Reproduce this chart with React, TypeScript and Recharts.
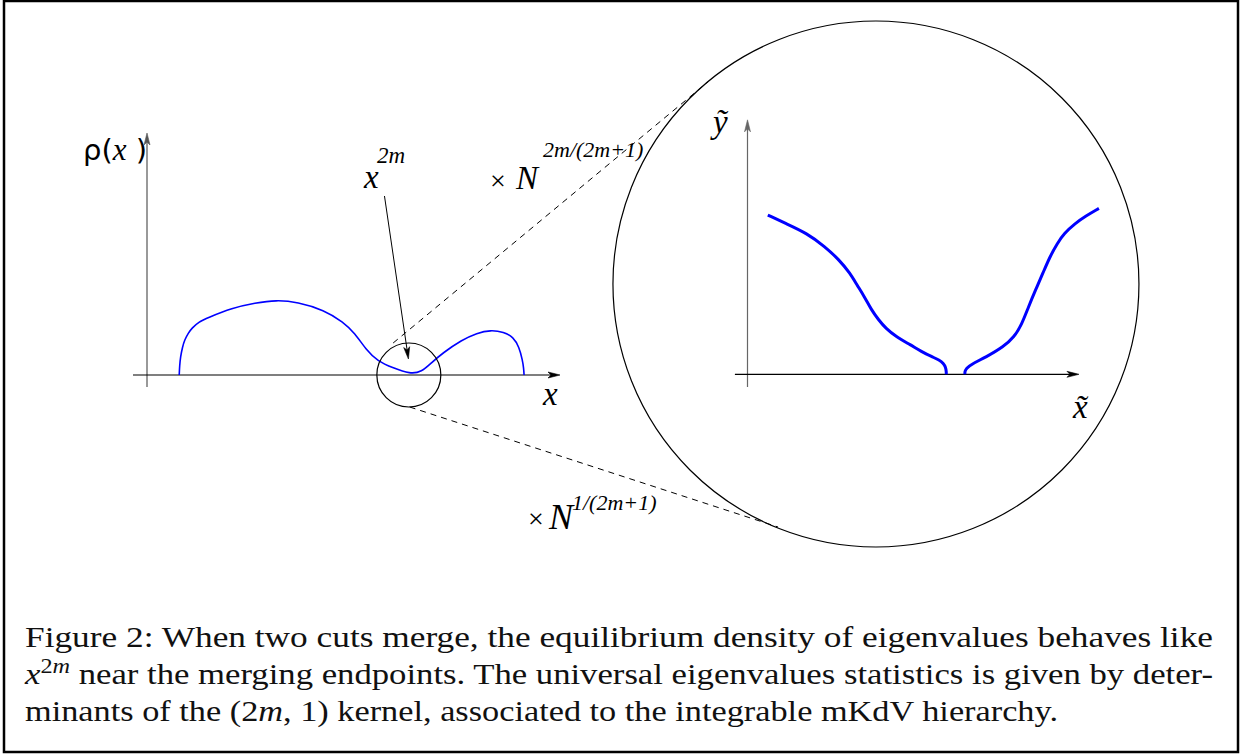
import React from 'react';
import { ComposedChart, Line, XAxis, YAxis, ReferenceLine, ReferenceDot } from 'recharts';

const W = 1247;
const H = 756;

// left panel: equilibrium density rho(x), two cuts that merge near x ~ 6.35
const densityX = [0.78, 0.79, 0.81, 0.86, 0.91, 1.0, 1.09, 1.25, 1.46, 2.06, 2.62, 3.13, 3.64, 4.29, 4.75, 5.03, 5.31, 5.58, 5.96, 6.37, 6.65, 6.88, 7.16, 7.62, 7.99, 8.32, 8.64, 8.87, 9.01, 9.09, 9.12, 9.13];
const densityY = [0, 0.09, 0.18, 0.28, 0.35, 0.42, 0.47, 0.53, 0.57, 0.67, 0.72, 0.75, 0.73, 0.65, 0.53, 0.42, 0.25, 0.14, 0.07, 0.01, 0.03, 0.12, 0.22, 0.35, 0.42, 0.45, 0.43, 0.38, 0.28, 0.15, 0.07, 0];

// right panel: zoom of the merging endpoints (x~, y~)
const zoomLeftX = [0.58, 1.09, 1.7, 2.21, 2.62, 2.93, 3.13, 3.34, 3.54, 3.75, 3.95, 4.25, 4.66, 4.97, 5.27, 5.48, 5.6, 5.66, 5.68, 5.68];
const zoomLeftY = [4.55, 4.31, 4.03, 3.65, 3.27, 2.89, 2.55, 2.22, 1.84, 1.55, 1.31, 1.07, 0.84, 0.65, 0.5, 0.41, 0.31, 0.2, 0.08, 0];
const zoomRightX = [6.21, 6.21, 6.25, 6.4, 6.81, 7.32, 7.62, 7.83, 8.03, 8.23, 8.44, 8.64, 8.85, 9.05, 9.36, 9.66, 10.04];
const zoomRightY = [0, 0.08, 0.17, 0.29, 0.49, 0.79, 1.07, 1.41, 1.93, 2.41, 2.89, 3.36, 3.74, 4.03, 4.31, 4.52, 4.74];

// zoom circles (left-frame centre of the small one, right-frame centre of the big one)
const smallCircle = { x: 6.34, y: 0 };
const bigCircle = { x: 3.67, y: 2.58 };

// dashed links between the circles, in left-frame units
const linkTop = [{ x: 5.96, y: 0.32 }, { x: 13.58, y: 2.93 }];
const linkBottom = [{ x: 6.36, y: -0.32 }, { x: 15.28, y: -1.52 }];

// arrow from the x^2m label to the merge point, left-frame units
const pointer = [{ x: 5.75, y: 1.79 }, { x: 6.33, y: 0.16 }];

// axes segments
const leftYAxis = [{ x: 0, y: -0.12 }, { x: 0, y: 2.42 }];
const leftXAxis = [{ x: -0.34, y: 0 }, { x: 10.0, y: 0 }];
const rightYAxis = [{ x: 0, y: -0.36 }, { x: 0, y: 7.27 }];
const rightXAxis = [{ x: -0.36, y: 0 }, { x: 9.47, y: 0 }];

const captionLines = [
  'Figure 2: When two cuts merge, the equilibrium density of eigenvalues behaves like',
  ' near the merging endpoints. The universal eigenvalues statistics is given by deter-',
  'minants of the (2',
  ', 1) kernel, associated to the integrable mKdV hierarchy.',
];

const pts = (xs: number[], ys: number[]) => xs.map((x, i) => ({ x, y: ys[i] }));

// frames: pixel origin and pixels per unit
const LEFT = { ox: 147, oy: 375, kx: 41.3, ky: 100 };
const RIGHT = { ox: 747.5, oy: 374.3, kx: 35, ky: 35 };
const domX = (f: typeof LEFT) => [-f.ox / f.kx, (W - f.ox) / f.kx];
const domY = (f: typeof LEFT) => [-(H - f.oy) / f.ky, f.oy / f.ky];

const arrow = (color: string, width = 1.2) => (p: any) => {
  const { x1, y1, x2, y2 } = p;
  const dx = x2 - x1;
  const dy = y2 - y1;
  const len = Math.sqrt(dx * dx + dy * dy) || 1;
  const ux = dx / len;
  const uy = dy / len;
  const L = 12;
  const hw = 3;
  const bx = x2 - ux * L;
  const by = y2 - uy * L;
  const head = `M${x2},${y2} L${bx - uy * hw},${by + ux * hw} L${x2 - ux * (L - 3)},${y2 - uy * (L - 3)} L${bx + uy * hw},${by - ux * hw} Z`;
  return (
    <g>
      <line x1={x1} y1={y1} x2={x2 - ux * 4} y2={y2 - uy * 4} stroke={color} strokeWidth={width} />
      <path d={head} fill={color} stroke={color} strokeWidth={0.6} />
    </g>
  );
};

const serif = { fontFamily: "'Liberation Serif'" };
const ital = { fontFamily: "'Liberation Serif'", fontStyle: 'italic' as const };

export default function App() {
  return (
    <div style={{ position: 'absolute', left: 0, top: 0, width: W, height: H, background: '#fff' }}>
      <ComposedChart width={W} height={H} margin={{ top: 0, right: 0, bottom: 0, left: 0 }}>
        <XAxis xAxisId="L" dataKey="x" type="number" domain={domX(LEFT)} allowDataOverflow hide />
        <YAxis yAxisId="L" type="number" domain={domY(LEFT)} allowDataOverflow hide />
        <XAxis xAxisId="R" dataKey="x" type="number" domain={domX(RIGHT)} allowDataOverflow hide />
        <YAxis yAxisId="R" type="number" domain={domY(RIGHT)} allowDataOverflow hide />

        <rect x={4} y={1} width={1234} height={751} fill="none" stroke="#000" strokeWidth={2.5} />

        {/* left panel axes */}
        <ReferenceLine xAxisId="L" yAxisId="L" segment={leftYAxis} ifOverflow="visible" shape={arrow('#555')} />
        <ReferenceLine xAxisId="L" yAxisId="L" segment={leftXAxis} ifOverflow="visible" shape={arrow('#000')} />
        <ReferenceLine xAxisId="L" yAxisId="L" segment={pointer} ifOverflow="visible" shape={arrow('#000', 1)} />

        {/* right panel axes */}
        <ReferenceLine xAxisId="R" yAxisId="R" segment={rightYAxis} ifOverflow="visible" shape={arrow('#666')} />
        <ReferenceLine xAxisId="R" yAxisId="R" segment={rightXAxis} ifOverflow="visible" shape={arrow('#000')} />

        {/* zoom links */}
        <ReferenceLine xAxisId="L" yAxisId="L" segment={linkTop} ifOverflow="visible" stroke="#000" strokeWidth={1} strokeDasharray="6 5" />
        <ReferenceLine xAxisId="L" yAxisId="L" segment={linkBottom} ifOverflow="visible" stroke="#000" strokeWidth={1} strokeDasharray="6 5" />

        <ReferenceDot xAxisId="L" yAxisId="L" x={smallCircle.x} y={smallCircle.y} r={32} fill="none" stroke="#000" strokeWidth={1.2} ifOverflow="visible" />
        <ReferenceDot xAxisId="R" yAxisId="R" x={bigCircle.x} y={bigCircle.y} r={263} fill="none" stroke="#000" strokeWidth={1.2} ifOverflow="visible" />

        <Line data={pts(densityX, densityY)} xAxisId="L" yAxisId="L" dataKey="y" type="basis" stroke="#0000ff" strokeWidth={1.6} dot={false} isAnimationActive={false} />
        <Line data={pts(zoomLeftX, zoomLeftY)} xAxisId="R" yAxisId="R" dataKey="y" type="basis" stroke="#0000ff" strokeWidth={3} dot={false} isAnimationActive={false} />
        <Line data={pts(zoomRightX, zoomRightY)} xAxisId="R" yAxisId="R" dataKey="y" type="basis" stroke="#0000ff" strokeWidth={3} dot={false} isAnimationActive={false} />

        {/* labels */}
        <g fill="#000">
          <text x={83} y={160} fontSize={29} style={{ fontFamily: "'DejaVu Sans'" }}>
            ρ(<tspan style={ital} fontSize={31}>x</tspan> )
          </text>
          <text x={377} y={163} fontSize={23} style={ital}>2m</text>
          <text x={364} y={188} fontSize={33} style={ital}>x</text>
          <text x={490} y={190} fontSize={28} style={serif}>×</text>
          <text x={516} y={189} fontSize={33} style={ital}>N</text>
          <text x={543} y={157} fontSize={22} style={ital}>2m/(2m+1)</text>
          <text x={543} y={405} fontSize={33} style={ital}>x</text>

          <text x={713} y={133} fontSize={33} style={ital}>ỹ</text>
          <text x={1073} y={418} fontSize={33} style={ital}>{'x\u0303'}</text>

          <text x={528} y={528} fontSize={28} style={serif}>×</text>
          <text x={549} y={529} fontSize={36} style={ital}>N</text>
          <text x={572} y={510} fontSize={22} style={ital}>1/(2m+1)</text>
        </g>

        {/* caption */}
        <g fill="#111">
          <text x={25} y={647} fontSize={30} style={serif} textLength={1188} lengthAdjust="spacingAndGlyphs">{captionLines[0]}</text>
          <text x={25} y={684} fontSize={30} style={serif} textLength={1188} lengthAdjust="spacingAndGlyphs">
            <tspan style={ital}>x</tspan>
            <tspan dy={-11} fontSize={21}>2</tspan>
            <tspan fontSize={21} style={ital}>m</tspan>
            <tspan dy={11}>{captionLines[1]}</tspan>
          </text>
          <text x={25} y={721} fontSize={30} style={serif} textLength={1033} lengthAdjust="spacingAndGlyphs">
            {captionLines[2]}
            <tspan style={ital}>m</tspan>
            <tspan>{captionLines[3]}</tspan>
          </text>
        </g>
      </ComposedChart>
    </div>
  );
}
